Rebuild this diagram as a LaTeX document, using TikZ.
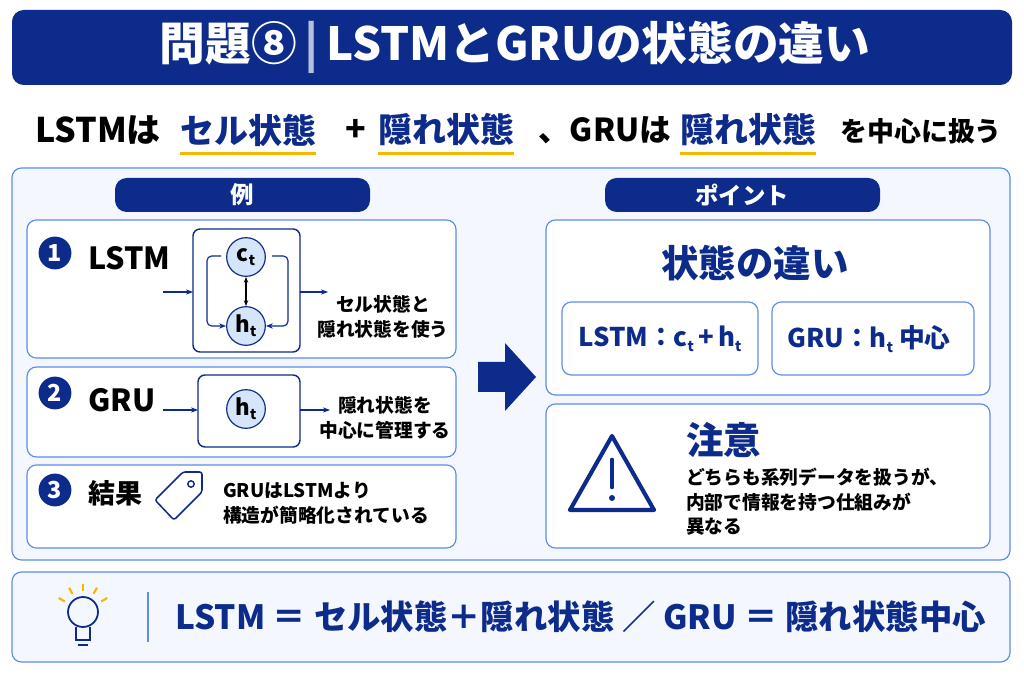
\documentclass[tikz,border=0pt]{standalone}
\usepackage{fontspec}
\setmainfont{Noto Sans CJK JP}
\usetikzlibrary{arrows.meta,positioning}
\definecolor{navy}{HTML}{0D2B8A}
\definecolor{edge}{HTML}{5B8DEF}
\definecolor{paper}{HTML}{F4F7FD}
\definecolor{bubble}{HTML}{D6E6FA}
\definecolor{gold}{HTML}{F5B800}
\newcommand{\fsz}[1]{\fontsize{#1}{#1}\selectfont}
\newcommand{\subt}[1]{#1\raisebox{-0.35ex}{\fsz{12pt}t}}
\tikzset{
  panel/.style={draw=edge, line width=1pt, fill=white, rounded corners=8pt},
  tab/.style={fill=navy, rounded corners=10pt},
  num/.style={circle, fill=navy, text=white, minimum size=28pt, inner sep=0pt, font=\bfseries\fsz{20pt}},
  state/.style={circle, draw=navy, line width=1pt, fill=bubble, minimum size=33pt, inner sep=0pt, font=\bfseries\fsz{19pt}},
  flow/.style={navy, line width=1pt, -{Stealth[length=6pt]}},
  note/.style={align=left, font=\bfseries\fsz{16pt}, inner sep=0pt},
}
\begin{document}
\begin{tikzpicture}[x=0.03cm, y=-0.03cm]
    % Canvas
    \fill[white] (0,0) rectangle (1024,683);

    % Title
    \fill[navy, rounded corners=10pt] (12,10) rectangle (1012,85);
    \node[text=white, font=\bfseries\fsz{39pt}] (title) at (515,47)
        {問題⑧\,\textcolor{white!70!navy}{|}\,LSTMとGRUの状態の違い};

    % Subtitle
    \node[anchor=west, font=\bfseries\fsz{29pt}, inner sep=0pt] (s1) at (35,130) {LSTMは};
    \node[anchor=west, font=\bfseries\fsz{29pt}, text=navy, inner sep=0pt] (s2) at (180,130) {セル状態};
    \node[anchor=west, font=\bfseries\fsz{29pt}, inner sep=0pt] (s3) at (345,130) {+};
    \node[anchor=west, font=\bfseries\fsz{29pt}, text=navy, inner sep=0pt] (s4) at (378,130) {隠れ状態};
    \node[anchor=west, font=\bfseries\fsz{27pt}, inner sep=0pt] (s5) at (538,130) {、GRUは};
    \node[anchor=west, font=\bfseries\fsz{29pt}, text=navy, inner sep=0pt] (s6) at (680,130) {隠れ状態};
    \node[anchor=west, font=\bfseries\fsz{23pt}, inner sep=0pt] (s7) at (840,131) {を中心に扱う};
    \foreach \n in {s2,s4,s6}
        \draw[gold, line width=2pt] ([yshift=-6pt]\n.south west) -- ([yshift=-6pt]\n.south east);

    % Main frame
    \draw[panel, fill=paper] (12,168) rectangle (1010,560);
    \fill[tab] (115,178) rectangle (370,212);
    \node[text=white, font=\bfseries\fsz{20pt}] (ex) at (242,195) {例};
    \fill[tab] (605,178) rectangle (880,212);
    \node[text=white, font=\bfseries\fsz{20pt}] (pt) at (742,195) {ポイント};

    % Example panels
    \draw[panel] (27,220) rectangle (456,358);
    \draw[panel] (27,367) rectangle (456,457);
    \draw[panel] (27,465) rectangle (456,548);
    \node[num] (n1) at (55,253) {1};
    \node[num] (n2) at (55,393) {2};
    \node[num] (n3) at (55,490) {3};
    \node[anchor=west, font=\bfseries\fsz{26pt}, inner sep=0pt] (l1) at (88,258) {LSTM};
    \node[anchor=west, font=\bfseries\fsz{26pt}, inner sep=0pt] (l2) at (88,400) {GRU};
    \node[anchor=west, font=\bfseries\fsz{23pt}, inner sep=0pt] (l3) at (88,493) {結果};

    % LSTM cell
    \draw[navy, line width=1.2pt, rounded corners=6pt] (193,229) rectangle (300,352);
    \node[state] (c) at (246,257) {\subt{c}};
    \node[state] (h) at (246,326) {\subt{h}};
    \draw[black, line width=1pt, {Stealth[length=5pt]}-{Stealth[length=5pt]}] (c) -- (h);
    \draw[flow, rounded corners=4pt] (221,256) -- (207,256) -- (207,326) -- (h.west);
    \draw[flow, rounded corners=4pt] (272,256) -- (288,256) -- (288,326) -- (h.east);
    \coordinate (i1) at (163,292);
    \coordinate (o1) at (328,292);
    \draw[flow] (i1) -- (193,292);
    \draw[flow] (300,292) -- (o1);
    \node[note, align=center] (t1) at (383,317) {セル状態と\\[5pt]隠れ状態を使う};

    % GRU cell
    \draw[navy, line width=1.2pt, rounded corners=6pt] (198,375) rectangle (300,447);
    \node[state] (g) at (246,409) {\subt{h}};
    \coordinate (i2) at (163,410);
    \coordinate (o2) at (330,410);
    \draw[flow] (i2) -- (198,410);
    \draw[flow] (300,410) -- (o2);
    \node[note, align=center] (t2) at (385,418) {隠れ状態を\\[5pt]中心に管理する};

    % Result
    \draw[navy, line width=1.3pt, line join=round, rounded corners=2pt] (155,500) -- (183,472) -- (202,472) -- (202,492) -- (174,520) -- cycle;
    \draw[navy, line width=1.2pt] (191,484) circle (3.2);
    \node[note, anchor=west] (t3) at (223,503) {GRUはLSTMより\\[5pt]構造が簡略化されている};

    % Big arrow
    \fill[navy] (478,362) -- (505,362) -- (505,343) -- (536,377) -- (505,411) -- (505,392) -- (478,392) -- cycle;

    % Points
    \draw[panel] (546,220) rectangle (990,395);
    \node[text=navy, font=\bfseries\fsz{32pt}] (diff) at (755,263) {状態の違い};
    \draw[panel] (562,302) rectangle (758,375);
    \node[text=navy, font=\bfseries\fsz{22pt}] (pl) at (660,339) {LSTM：\subt{c}\,+\,\subt{h}};
    \draw[panel] (772,302) rectangle (974,375);
    \node[text=navy, font=\bfseries\fsz{22pt}] (pg) at (869,339) {GRU：\subt{h}\ 中心};

    \draw[panel] (546,404) rectangle (990,548);
    \draw[navy, line width=3.5pt, line join=round] (612,436) -- (654,510) -- (570,510) -- cycle;
    \draw[navy, line width=4pt, line cap=round] (612,460) -- (612,487);
    \fill[navy] (612,498) circle (3);
    \node[anchor=west, text=navy, font=\bfseries\fsz{32pt}, inner sep=0pt] (warn) at (686,440) {注意};
    \node[note, anchor=north west] (wt) at (686,468)
        {どちらも系列データを扱うが、\\[5pt]内部で情報を持つ仕組みが\\[5pt]異なる};

    % Bottom summary
    \draw[panel, fill=paper] (12,572) rectangle (1010,662);
    \draw[navy, line width=1.5pt] (83,612) circle (15);
    \draw[navy, line width=1.5pt] (76,627) -- (76,640) -- (90,640) -- (90,627);
    \draw[navy, line width=1.5pt] (78,645) -- (88,645);
    \foreach \a in {-150,-120,-90,-60,-30}
        \draw[gold, line width=1.8pt] (83,612) ++(\a:21) -- ++(\a:7);
    \draw[edge, line width=1pt] (148,592) -- (148,642);
    \node[anchor=west, text=navy, font=\bfseries\fsz{28.5pt}, inner sep=0pt] (sum) at (175,617)
        {LSTM ＝ セル状態＋隠れ状態 ／ GRU ＝ 隠れ状態中心};
\end{tikzpicture}
\end{document}
